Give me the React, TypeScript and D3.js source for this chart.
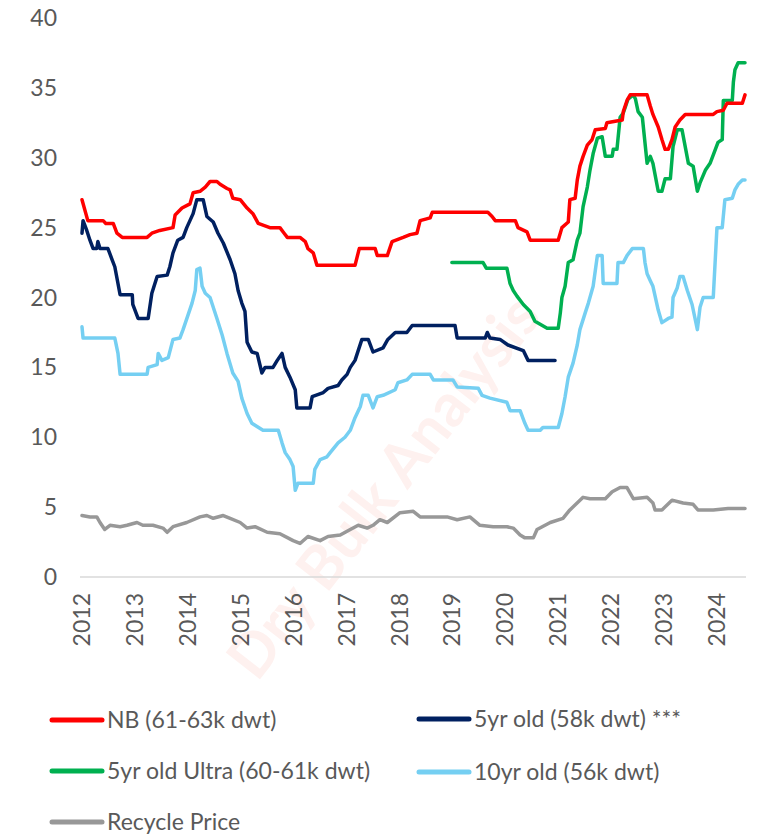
import React from "react";
import * as d3 from "d3";

type Pt = [number, number];

const yTicks = [0, 5, 10, 15, 20, 25, 30, 35, 40];
const yearTicks = [2012, 2013, 2014, 2015, 2016, 2017, 2018, 2019, 2020, 2021, 2022, 2023, 2024];

const nbSeries: Pt[] = [[2012.00,27.0],[2012.11,25.5],[2012.40,25.5],[2012.45,25.3],[2012.59,25.3],[2012.66,24.6],[2012.76,24.3],[2013.23,24.3],[2013.32,24.6],[2013.47,24.8],[2013.72,25.0],[2013.76,25.9],[2013.89,26.4],[2014.04,26.7],[2014.10,27.5],[2014.23,27.6],[2014.33,27.9],[2014.42,28.3],[2014.55,28.3],[2014.61,28.1],[2014.74,27.8],[2014.80,27.7],[2014.85,27.1],[2014.99,27.0],[2015.12,26.4],[2015.23,26.0],[2015.33,25.3],[2015.55,25.0],[2015.74,25.0],[2015.82,24.6],[2015.88,24.3],[2016.12,24.3],[2016.22,24.0],[2016.27,23.5],[2016.37,23.2],[2016.44,22.3],[2017.16,22.3],[2017.24,23.5],[2017.54,23.5],[2017.58,23.0],[2017.77,23.0],[2017.86,24.0],[2018.07,24.3],[2018.20,24.5],[2018.33,24.6],[2018.39,25.5],[2018.58,25.7],[2018.62,26.1],[2019.67,26.1],[2019.75,25.8],[2019.81,25.5],[2020.19,25.5],[2020.24,25.0],[2020.41,24.7],[2020.47,24.1],[2021.00,24.1],[2021.07,25.0],[2021.19,25.4],[2021.22,27.0],[2021.32,27.1],[2021.36,28.4],[2021.41,29.4],[2021.47,30.1],[2021.55,30.9],[2021.64,31.3],[2021.70,32.0],[2021.89,32.1],[2021.92,32.5],[2022.21,32.7],[2022.23,33.3],[2022.30,34.1],[2022.36,34.5],[2022.68,34.5],[2022.74,33.7],[2022.79,33.1],[2022.89,32.2],[2022.96,31.3],[2023.02,30.6],[2023.08,30.6],[2023.15,31.3],[2023.21,32.2],[2023.30,32.7],[2023.40,33.1],[2023.93,33.1],[2024.00,33.3],[2024.12,33.4],[2024.19,33.9],[2024.48,33.9],[2024.53,34.5]];

const fiveYrSeries: Pt[] = [[2012.00,24.6],[2012.02,25.5],[2012.09,24.8],[2012.15,24.1],[2012.21,23.5],[2012.28,23.5],[2012.30,24.0],[2012.34,23.5],[2012.49,23.5],[2012.57,22.7],[2012.62,22.2],[2012.68,21.0],[2012.72,20.2],[2012.95,20.2],[2012.96,19.5],[2013.06,18.5],[2013.25,18.5],[2013.32,20.3],[2013.42,21.5],[2013.61,21.6],[2013.66,22.2],[2013.72,23.2],[2013.81,24.1],[2013.91,24.3],[2013.98,25.0],[2014.10,26.0],[2014.17,27.0],[2014.29,27.0],[2014.36,25.8],[2014.48,25.4],[2014.57,24.6],[2014.67,23.9],[2014.80,22.7],[2014.89,21.7],[2014.95,20.5],[2015.02,19.6],[2015.08,19.0],[2015.12,16.8],[2015.21,16.1],[2015.31,16.0],[2015.40,14.6],[2015.46,15.0],[2015.61,15.0],[2015.69,15.5],[2015.78,16.0],[2015.84,15.0],[2015.93,14.3],[2016.03,13.4],[2016.06,12.1],[2016.31,12.1],[2016.35,12.9],[2016.56,13.2],[2016.65,13.5],[2016.84,13.7],[2016.91,14.1],[2017.01,14.5],[2017.07,15.0],[2017.16,15.5],[2017.22,16.2],[2017.29,17.0],[2017.41,17.0],[2017.50,16.1],[2017.69,16.4],[2017.78,17.0],[2017.92,17.5],[2018.14,17.5],[2018.24,18.0],[2019.05,18.0],[2019.09,17.1],[2019.62,17.1],[2019.66,17.5],[2019.71,17.1],[2019.90,17.0],[2020.05,16.6],[2020.34,16.2],[2020.43,15.5],[2020.94,15.5]];

const ultraSeries: Pt[] = [[2018.99,22.5],[2019.58,22.5],[2019.64,22.1],[2020.03,22.1],[2020.09,21.0],[2020.15,20.5],[2020.22,20.1],[2020.34,19.5],[2020.47,19.0],[2020.56,18.3],[2020.79,17.8],[2021.00,17.8],[2021.04,18.9],[2021.07,20.0],[2021.13,20.8],[2021.19,22.5],[2021.28,22.7],[2021.36,24.1],[2021.41,24.6],[2021.47,26.5],[2021.55,27.9],[2021.60,29.1],[2021.66,30.3],[2021.74,31.4],[2021.83,31.5],[2021.89,30.1],[2022.02,30.1],[2022.04,30.6],[2022.11,30.6],[2022.17,32.9],[2022.23,33.2],[2022.32,34.2],[2022.42,34.5],[2022.46,34.2],[2022.51,33.3],[2022.59,32.9],[2022.68,29.6],[2022.74,30.1],[2022.79,29.6],[2022.89,27.6],[2022.96,27.6],[2023.02,28.5],[2023.12,28.5],[2023.17,30.8],[2023.25,32.0],[2023.34,32.0],[2023.40,30.8],[2023.46,29.6],[2023.55,29.4],[2023.63,27.6],[2023.68,28.2],[2023.78,29.1],[2023.87,29.6],[2023.97,30.6],[2024.02,31.1],[2024.10,31.3],[2024.12,34.1],[2024.29,34.1],[2024.31,35.4],[2024.34,36.3],[2024.40,36.8],[2024.53,36.8]];

const tenYrSeries: Pt[] = [[2012.00,17.9],[2012.02,17.1],[2012.62,17.1],[2012.68,16.0],[2012.72,14.5],[2013.23,14.5],[2013.25,15.0],[2013.42,15.2],[2013.44,16.0],[2013.51,15.5],[2013.63,15.7],[2013.72,17.0],[2013.85,17.1],[2013.91,17.7],[2014.00,18.7],[2014.08,19.6],[2014.14,20.5],[2014.17,22.0],[2014.23,22.1],[2014.27,20.8],[2014.33,20.3],[2014.42,20.0],[2014.55,18.5],[2014.65,17.3],[2014.74,16.0],[2014.85,14.6],[2014.95,14.0],[2015.02,12.8],[2015.12,11.7],[2015.21,11.0],[2015.42,10.5],[2015.71,10.5],[2015.78,9.6],[2015.84,8.9],[2015.93,8.4],[2015.99,7.9],[2016.03,6.2],[2016.08,6.7],[2016.37,6.7],[2016.40,7.7],[2016.50,8.4],[2016.63,8.6],[2016.69,8.9],[2016.84,9.6],[2016.97,10.0],[2017.07,10.5],[2017.16,11.4],[2017.26,12.2],[2017.31,13.0],[2017.41,13.0],[2017.50,12.1],[2017.58,12.9],[2017.69,13.0],[2017.92,13.4],[2017.97,13.9],[2018.14,14.1],[2018.24,14.5],[2018.58,14.5],[2018.64,14.1],[2019.01,14.1],[2019.09,13.6],[2019.49,13.5],[2019.56,13.0],[2019.71,12.8],[2020.03,12.5],[2020.09,11.9],[2020.28,11.9],[2020.37,11.0],[2020.43,10.5],[2020.66,10.5],[2020.71,10.7],[2021.00,10.7],[2021.07,11.7],[2021.13,12.9],[2021.19,14.3],[2021.28,15.3],[2021.36,16.6],[2021.41,17.7],[2021.51,18.9],[2021.57,19.6],[2021.66,20.8],[2021.74,23.0],[2021.83,23.0],[2021.85,21.0],[2022.11,21.0],[2022.13,22.5],[2022.23,22.5],[2022.30,23.0],[2022.40,23.5],[2022.61,23.5],[2022.64,22.5],[2022.68,21.7],[2022.74,21.2],[2022.79,20.8],[2022.89,19.1],[2022.96,18.2],[2023.08,18.5],[2023.15,18.6],[2023.17,20.0],[2023.25,20.7],[2023.30,21.5],[2023.36,21.5],[2023.44,20.5],[2023.53,19.5],[2023.63,17.7],[2023.68,19.3],[2023.74,20.0],[2023.93,20.0],[2024.00,25.0],[2024.10,25.0],[2024.15,27.0],[2024.29,27.1],[2024.34,27.7],[2024.40,28.1],[2024.48,28.4],[2024.53,28.4]];

const recycleSeries: Pt[] = [[2012.00,4.4],[2012.15,4.3],[2012.28,4.3],[2012.34,3.9],[2012.43,3.4],[2012.53,3.7],[2012.72,3.6],[2012.85,3.7],[2013.04,3.9],[2013.15,3.7],[2013.34,3.7],[2013.53,3.5],[2013.61,3.2],[2013.72,3.6],[2013.98,3.9],[2014.23,4.3],[2014.36,4.4],[2014.48,4.2],[2014.67,4.4],[2014.80,4.2],[2014.99,3.9],[2015.12,3.5],[2015.27,3.6],[2015.50,3.2],[2015.74,3.1],[2015.99,2.6],[2016.12,2.4],[2016.27,2.9],[2016.50,2.6],[2016.65,2.9],[2016.88,3.0],[2017.07,3.4],[2017.22,3.7],[2017.39,3.5],[2017.50,3.7],[2017.63,4.1],[2017.77,3.9],[2018.01,4.6],[2018.26,4.7],[2018.39,4.3],[2018.64,4.3],[2018.90,4.3],[2019.09,4.1],[2019.33,4.3],[2019.52,3.7],[2019.77,3.6],[2020.03,3.6],[2020.15,3.5],[2020.28,3.0],[2020.37,2.8],[2020.53,2.8],[2020.60,3.4],[2020.85,3.9],[2021.09,4.2],[2021.22,4.8],[2021.47,5.7],[2021.60,5.6],[2021.89,5.6],[2022.02,6.1],[2022.17,6.4],[2022.30,6.4],[2022.42,5.6],[2022.68,5.7],[2022.79,5.3],[2022.83,4.8],[2022.96,4.8],[2023.15,5.5],[2023.36,5.3],[2023.55,5.2],[2023.64,4.8],[2023.93,4.8],[2024.21,4.9],[2024.53,4.9]];

const seriesNames = ["NB (61-63k dwt)", "5yr old (58k dwt) ***", "5yr old Ultra (60-61k dwt)", "10yr old (56k dwt)", "Recycle Price"];
const seriesColors = ["#ff0000", "#002060", "#00b050", "#75cff2", "#989898"];
const seriesData = [nbSeries, fiveYrSeries, ultraSeries, tenYrSeries, recycleSeries];
const drawOrder = [4, 3, 1, 2, 0];

const FONT = "Lato, 'Open Sans', sans-serif";
const TEXT_COLOR = "#595959";

export default function App() {
  const width = 757;
  const height = 834;
  const x = d3.scaleLinear().domain([2012, 2024.53]).range([82, 745]);
  const y = d3.scaleLinear().domain([0, 40]).range([577, 18]);
  const line = d3
    .line<Pt>()
    .x((d) => x(d[0]))
    .y((d) => y(d[1]));

  const legendPos = [
    { lx: 50, ly: 720 },
    { lx: 417, ly: 719 },
    { lx: 50, ly: 771 },
    { lx: 417, ly: 772 },
    { lx: 50, ly: 822 },
  ];

  return (
    <svg
      width={width}
      height={height}
      style={{ position: "absolute", left: 0, top: 0, background: "#fff" }}
    >
      <g fill="#fef1ef" fontFamily={FONT} fontWeight={700} fontSize={60}>
        <text transform="translate(400,500) rotate(-52)" textAnchor="middle">
          Dry Bulk Analysis
        </text>
      </g>

      <line x1={80} x2={746} y1={y(0)} y2={y(0)} stroke="#d9d9d9" strokeWidth={1.5} />

      {yTicks.map((t) => (
        <text
          key={t}
          x={57}
          y={y(t)}
          dy="0.35em"
          textAnchor="end"
          fontFamily={FONT}
          fontSize={23}
          fill={TEXT_COLOR}
        >
          {t}
        </text>
      ))}

      {yearTicks.map((t) => (
        <text
          key={t}
          transform={`translate(${x(t)},593) rotate(-90)`}
          dy="0.35em"
          textAnchor="end"
          fontFamily={FONT}
          fontSize={23}
          fill={TEXT_COLOR}
        >
          {t}
        </text>
      ))}

      {drawOrder.map((i) => (
        <path
          key={i}
          d={line(seriesData[i]) || ""}
          fill="none"
          stroke={seriesColors[i]}
          strokeWidth={3.5}
          strokeLinejoin="round"
          strokeLinecap="round"
        />
      ))}

      {seriesNames.map((name, i) => {
        const p = legendPos[i];
        return (
          <g key={name}>
            <line
              x1={p.lx + 2}
              x2={p.lx + 52}
              y1={p.ly}
              y2={p.ly}
              stroke={seriesColors[i]}
              strokeWidth={5}
              strokeLinecap="round"
            />
            <text
              x={p.lx + 57}
              y={p.ly}
              dy="0.35em"
              fontFamily={FONT}
              fontSize={23}
              fill={TEXT_COLOR}
            >
              {name}
            </text>
          </g>
        );
      })}
    </svg>
  );
}
